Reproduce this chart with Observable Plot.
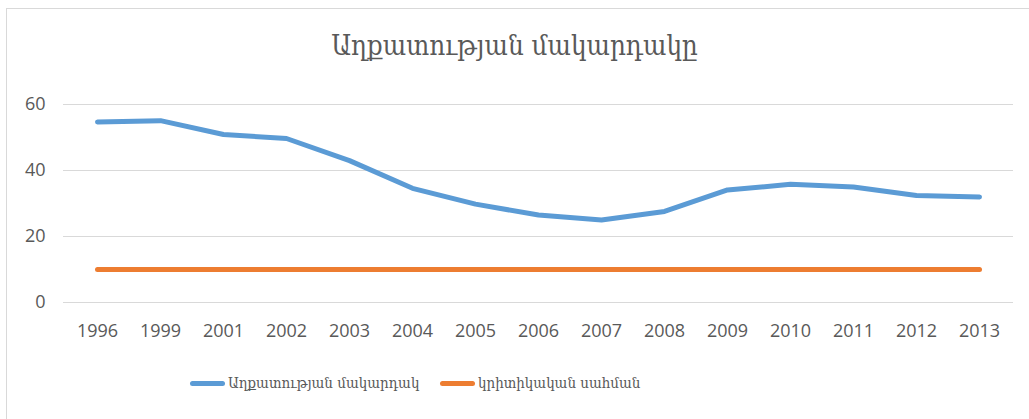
<!DOCTYPE html>
<html><head><meta charset="utf-8">
<script src="https://cdn.jsdelivr.net/npm/d3@7"></script>
<script src="https://cdn.jsdelivr.net/npm/@observablehq/plot@0.6"></script>
<style>
html,body{margin:0;padding:0;background:#fff;width:1029px;height:419px;overflow:hidden;position:relative}
#frame{position:absolute;left:6px;top:8px;width:1100px;height:500px;border:1px solid #d9d9d9;box-sizing:border-box}
#title{position:absolute;left:0;top:29px;width:1029px;text-align:center;font-family:"DejaVu Serif Condensed","DejaVu Serif",serif;font-size:27.5px;color:#595959}
#chart{position:absolute;left:0;top:90px}
#legend{position:absolute;left:0;top:370px;width:1029px;font-family:"DejaVu Serif Condensed","DejaVu Serif",serif;font-size:15px;color:#595959}
.item{position:absolute;top:0;display:flex;align-items:center;height:26px}
.sw{display:inline-block;width:35px;height:5px;border-radius:3px;margin-right:3px}
</style></head>
<body>
<div id="frame"></div>
<div id="title">Աղքատության մակարդակը</div>
<div id="chart"></div>
<div id="legend"></div>
<script>
const years = ["1996","1999","2001","2002","2003","2004","2005","2006","2007","2008","2009","2010","2011","2012","2013"];
const povertyRate = [54.7,55.1,50.9,49.7,43.0,34.6,29.8,26.5,25.0,27.6,34.1,35.8,35.0,32.4,32.0];
const criticalLimit = [10,10,10,10,10,10,10,10,10,10,10,10,10,10,10];
const seriesNames = ["Աղքատության մակարդակ","կրիտիկական սահման"];
const colors = ["#5B9BD5","#ED7D31"];
const yTicks = [0,20,40,60];

const rows = [];
years.forEach((y,i)=>{
  rows.push({year:y, value:povertyRate[i], series:seriesNames[0]});
  rows.push({year:y, value:criticalLimit[i], series:seriesNames[1]});
});

const chart = Plot.plot({
  width:1029, height:260,
  marginTop:14, marginBottom:48, marginLeft:63, marginRight:16,
  style:{fontFamily:"'Open Sans',sans-serif", fontSize:"18px", color:"#595959", background:"transparent"},
  x:{type:"point", domain:years, padding:0.5, label:null},
  y:{domain:[0,60], label:null},
  color:{domain:seriesNames, range:colors},
  marks:[
    Plot.gridY(yTicks,{stroke:"#d9d9d9", strokeOpacity:1, strokeWidth:1}),
    Plot.axisY(yTicks,{tickSize:0, tickPadding:18, fill:"#595959", fontSize:18}),
    Plot.axisX({tickSize:0, tickPadding:22, fill:"#595959", fontSize:18}),
    Plot.line(rows,{x:"year", y:"value", z:"series", stroke:"series", strokeWidth:5, curve:"linear", strokeLinecap:"round", strokeLinejoin:"round"})
  ]
});
document.getElementById("chart").appendChild(chart);

const leg = document.getElementById("legend");
const lefts = [190, 440];
seriesNames.forEach((n,i)=>{
  const d = document.createElement("div");
  d.className="item"; d.style.left = lefts[i]+"px";
  d.innerHTML = `<span class="sw" style="background:${colors[i]}"></span><span>${n}</span>`;
  leg.appendChild(d);
});
</script>
</body></html>
